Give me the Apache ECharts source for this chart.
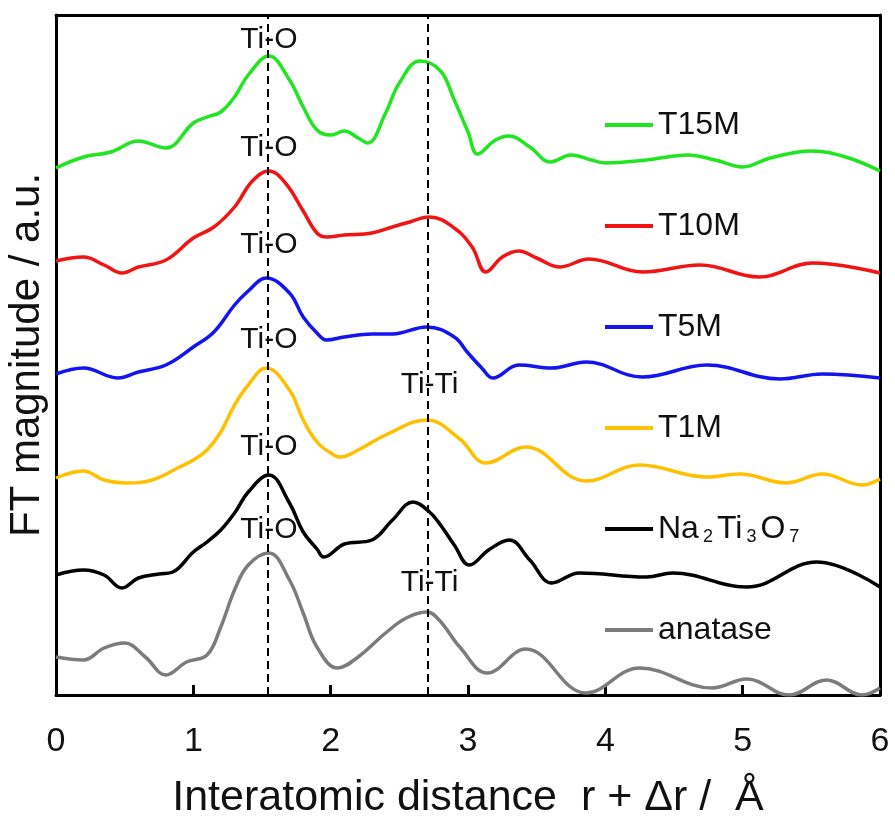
<!DOCTYPE html>
<html>
<head>
<meta charset="utf-8">
<title>FT magnitude</title>
<script src="https://cdn.jsdelivr.net/npm/echarts@6/dist/echarts.min.js"></script>
<style>
  html, body { margin: 0; padding: 0; background: #fff; }
  #chart { width: 895px; height: 819px; }
</style>
</head>
<body>
<div id="chart"></div>
<script type="text/javascript">
// r + dr (angstrom) and offset FT magnitude (a.u., stacked curves)
var rT15M = [0, 0.2, 0.4, 0.6, 0.8, 1.0, 1.1, 1.2, 1.3, 1.4, 1.55, 1.7, 1.8, 1.9, 2.0, 2.1, 2.2, 2.27, 2.4, 2.5, 2.65, 2.8, 2.9, 3.0, 3.07, 3.2, 3.3, 3.45, 3.6, 3.75, 3.9, 4.0, 4.3, 4.6, 4.8, 5.0, 5.2, 5.5, 5.75, 6.0];
var vT15M = [527, 538, 543, 554, 547, 572, 578, 583, 598, 620, 639, 615, 588, 565, 560, 564, 557, 552, 582, 612, 634, 624, 595, 563, 541, 555, 559, 548, 533, 540, 535, 532, 535, 540, 535, 528, 537, 544, 538, 524];

var rT10M = [0, 0.2, 0.35, 0.48, 0.6, 0.8, 1.0, 1.15, 1.3, 1.43, 1.55, 1.67, 1.8, 1.9, 1.97, 2.1, 2.3, 2.45, 2.55, 2.72, 2.9, 3.03, 3.13, 3.25, 3.37, 3.5, 3.67, 3.88, 4.27, 4.69, 5.12, 5.51, 6.0];
var vT10M = [434, 438, 430, 422, 428, 435, 457, 468, 488, 514, 524, 512, 484, 462, 458, 460, 462, 468, 472, 478, 467, 448, 423, 438, 444, 437, 428, 436, 423, 430, 418, 432, 422];

var rT5M = [0, 0.2, 0.45, 0.6, 0.8, 1.0, 1.15, 1.3, 1.4, 1.53, 1.7, 1.8, 1.9, 1.97, 2.1, 2.3, 2.45, 2.7, 2.9, 3.0, 3.1, 3.18, 3.37, 3.61, 3.86, 4.27, 4.74, 5.27, 5.58, 6.0];
var vT5M = [321, 327, 317, 323, 330, 348, 363, 390, 404, 417, 402, 378, 362, 355, 358, 361, 361, 368, 358, 342, 327, 317, 330, 327, 333, 318, 330, 316, 321, 317];

var rT1M = [0, 0.2, 0.35, 0.5, 0.7, 0.9, 1.0, 1.1, 1.2, 1.3, 1.4, 1.53, 1.7, 1.8, 1.9, 2.0, 2.07, 2.2, 2.4, 2.7, 2.94, 3.13, 3.42, 3.86, 4.25, 4.74, 4.98, 5.32, 5.58, 5.87, 6.0];
var vT1M = [217, 224, 215, 212, 215, 228, 235, 245, 263, 290, 310, 327, 305, 275, 253, 242, 238, 245, 260, 275, 256, 232, 248, 214, 230, 218, 221, 212, 221, 210, 216];

var rNTO = [0, 0.2, 0.35, 0.48, 0.6, 0.75, 0.85, 1.0, 1.1, 1.2, 1.3, 1.4, 1.55, 1.7, 1.8, 1.9, 1.95, 2.1, 2.3, 2.45, 2.6, 2.72, 2.8, 2.9, 3.01, 3.15, 3.3, 3.45, 3.61, 3.81, 4.3, 4.49, 5.03, 5.54, 6.0];
var vNTO = [120, 125, 120, 107, 117, 121, 123, 143, 153, 165, 182, 203, 220, 192, 163, 146, 138, 151, 155, 175, 193, 183, 170, 150, 130, 145, 155, 135, 112, 122, 118, 122, 108, 133, 108];

var rAna = [0, 0.2, 0.35, 0.5, 0.65, 0.8, 0.95, 1.1, 1.2, 1.3, 1.4, 1.55, 1.7, 1.8, 1.9, 2.05, 2.2, 2.4, 2.55, 2.7, 2.79, 2.94, 3.14, 3.42, 3.86, 4.25, 4.78, 5.03, 5.34, 5.61, 5.87, 6.0];
var vAna = [38, 35, 47, 52, 38, 20, 33, 40, 68, 105, 130, 142, 115, 82, 48, 27, 38, 62, 77, 83, 75, 48, 22, 46, 2, 27, 7, 16, 0, 15, 0, 7];

var seriesNames = ['T15M', 'T10M', 'T5M', 'T1M', 'Na2Ti3O7', 'anatase'];
var seriesColors = ['#22e522', '#f01414', '#1414f0', '#ffc000', '#000000', '#7c7c7c'];
var seriesR = [rT15M, rT10M, rT5M, rT1M, rNTO, rAna];
var seriesV = [vT15M, vT10M, vT5M, vT1M, vNTO, vAna];

var xTicks = [0, 1, 2, 3, 4, 5, 6];
var guideR = [1.54, 2.71]; // dashed guide lines
var peakText = ['Ti-O', 'Ti-O', 'Ti-O', 'Ti-O', 'Ti-O', 'Ti-O', 'Ti-Ti', 'Ti-Ti'];
var peakR = [1.55, 1.55, 1.55, 1.55, 1.55, 1.55, 2.72, 2.72];
var peakV = [655, 547, 450, 355, 248, 165, 310, 112];

var FONT = '"Liberation Sans", Arial, sans-serif';

function zip(a, b) {
    var out = [];
    for (var i = 0; i < a.length; i++) out.push([a[i], b[i]]);
    return out;
}

var chart = echarts.init(document.getElementById('chart'));

var series = [];
for (var i = 0; i < seriesNames.length; i++) {
    series.push({
        name: seriesNames[i],
        type: 'line',
        data: zip(seriesR[i], seriesV[i]),
        smooth: 0.4,
        showSymbol: false,
        symbol: 'none',
        color: seriesColors[i],
        lineStyle: { width: 3.5, color: seriesColors[i] },
        silent: true,
        z: 3
    });
}

// dashed guides
series[5].markLine = {
    silent: true,
    symbol: 'none',
    label: { show: false },
    lineStyle: { type: [8, 5], color: '#000', width: 2 },
    data: guideR.map(function (r) { return { xAxis: r }; })
};

// peak annotations
var annot = [];
for (var j = 0; j < peakText.length; j++) {
    annot.push({ value: [peakR[j], peakV[j]], name: peakText[j] });
}
series.push({
    name: 'labels',
    type: 'scatter',
    symbolSize: 0,
    silent: true,
    data: annot,
    z: 5,
    itemStyle: { opacity: 1 },
    label: {
        show: true,
        position: 'inside',
        formatter: '{b}',
        color: '#111',
        opacity: 1,
        textBorderWidth: 0,
        fontSize: 30,
        fontFamily: FONT
    }
});

var option = {
    animation: false,
    backgroundColor: '#fff',
    grid: { left: 56, right: 15, top: 15, bottom: 124, outerBoundsMode: 'none', containLabel: false },
    legend: {
        data: seriesNames,
        orient: 'vertical',
        left: 600,
        top: 103,
        icon: 'rect',
        itemWidth: 48,
        itemHeight: 4,
        itemGap: 67,
        selectedMode: false,
        formatter: function (name) {
            if (name === 'Na2Ti3O7') return 'Na{s|2}Ti{s|3}O{s|7}';
            return name;
        },
        textStyle: {
            color: '#111',
            fontSize: 32,
            lineHeight: 34,
            fontFamily: FONT,
            rich: {
                s: { fontSize: 18, fontFamily: FONT, color: '#111', verticalAlign: 'bottom', lineHeight: 30, padding: [0, 4, 0, 4] }
            }
        }
    },
    xAxis: [{
        type: 'value',
        min: 0,
        max: 6,
        interval: 1,
        name: 'Interatomic distance  r + Δr /  Å',
        nameLocation: 'middle',
        nameGap: 82,
        nameTextStyle: { color: '#111', fontSize: 43, fontFamily: FONT },
        axisLine: { show: true, lineStyle: { color: '#000', width: 3 } },
        axisTick: { show: true, inside: true, length: 10, lineStyle: { color: '#000', width: 3 } },
        axisLabel: {
            color: '#111', fontSize: 34, fontFamily: FONT, margin: 30,
            formatter: function (v) { return xTicks.indexOf(v) >= 0 ? String(v) : ''; }
        },
        splitLine: { show: false }
    }, {
        type: 'value',
        position: 'top',
        min: 0,
        max: 6,
        axisLine: { show: true, onZero: false, lineStyle: { color: '#000', width: 3 } },
        axisTick: { show: false },
        axisLabel: { show: false },
        splitLine: { show: false }
    }],
    yAxis: [{
        type: 'value',
        min: 0,
        max: 680,
        name: 'FT magnitude / a.u.',
        nameLocation: 'middle',
        nameGap: 8,
        nameTextStyle: { color: '#111', fontSize: 42, fontFamily: FONT },
        axisLine: { show: true, lineStyle: { color: '#000', width: 3 } },
        axisTick: { show: false },
        axisLabel: { show: false },
        splitLine: { show: false }
    }, {
        type: 'value',
        position: 'right',
        min: 0,
        max: 680,
        axisLine: { show: true, onZero: false, lineStyle: { color: '#000', width: 3 } },
        axisTick: { show: false },
        axisLabel: { show: false },
        splitLine: { show: false }
    }],
    series: series
};

chart.setOption(option);
</script>
</body>
</html>
